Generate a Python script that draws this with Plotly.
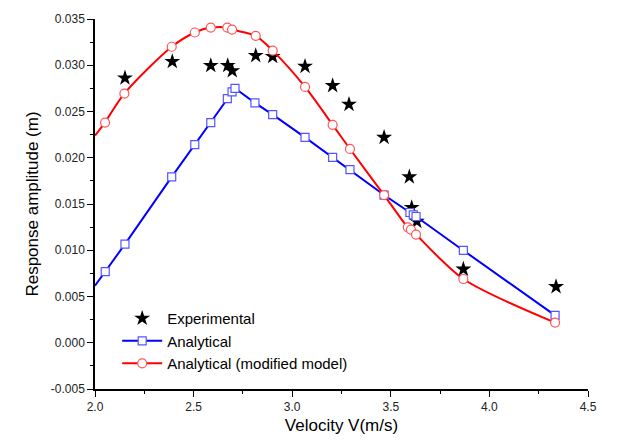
import plotly.graph_objects as go

# Experimental data
exp_v = [2.152, 2.392, 2.587, 2.673, 2.696, 2.815, 2.901, 3.065, 3.205, 3.288, 3.466, 3.594, 3.606, 3.632, 3.868, 4.338]
exp_a = [0.02862, 0.0304, 0.02997, 0.02997, 0.0294, 0.03104, 0.03094, 0.02988, 0.0278, 0.02577, 0.0222, 0.01793, 0.01461, 0.01312, 0.00795, 0.00606]

# Analytical
ana_v = [2.052, 2.152, 2.389, 2.506, 2.587, 2.671, 2.695, 2.710, 2.811, 2.901, 3.065, 3.205, 3.293, 3.466, 3.597, 3.614, 3.628, 3.868, 4.333]
ana_a = [0.0077, 0.01066, 0.01793, 0.02142, 0.0238, 0.0264, 0.02712, 0.02751, 0.02594, 0.02466, 0.0222, 0.02003, 0.01871, 0.01597, 0.01408, 0.01383, 0.01365, 0.00998, 0.00296]
ana_line_v = [2.0, 2.052]
ana_line_a = [0.00616, 0.0077]

# Analytical (modified model)
mod_v = [2.051, 2.149, 2.389, 2.506, 2.587, 2.671, 2.695, 2.815, 2.901, 3.065, 3.205, 3.293, 3.466, 3.586, 3.602, 3.628, 3.868, 4.333]
mod_a = [0.0238, 0.02694, 0.032, 0.03354, 0.03407, 0.03407, 0.03386, 0.03318, 0.03158, 0.02766, 0.02356, 0.02095, 0.01597, 0.01248, 0.01223, 0.0117, 0.00689, 0.00218]
mod_line_v = [2.0, 2.051]
mod_line_a = [0.0224, 0.0238]

# Tick labels
y_tickvals = [-0.005, 0.0, 0.005, 0.010, 0.015, 0.020, 0.025, 0.030, 0.035]
y_ticktext = ["-0.005", "0.000", "0.005", "0.010", "0.015", "0.020", "0.025", "0.030", "0.035"]
x_tickvals = [2.0, 2.5, 3.0, 3.5, 4.0, 4.5]
x_ticktext = ["2.0", "2.5", "3.0", "3.5", "4.0", "4.5"]

fig = go.Figure()
fig.add_trace(go.Scatter(x=ana_line_v, y=ana_line_a, mode="lines",
                         line=dict(color="#0000ff", width=2), showlegend=False, hoverinfo="skip"))
fig.add_trace(go.Scatter(x=mod_line_v, y=mod_line_a, mode="lines",
                         line=dict(color="#ff0000", width=2, shape="spline"), showlegend=False, hoverinfo="skip"))
fig.add_trace(go.Scatter(x=exp_v, y=exp_a, mode="markers", name="Experimental",
                         marker=dict(symbol="star", size=12, color="black")))
fig.add_trace(go.Scatter(x=ana_v, y=ana_a, mode="lines+markers", name="Analytical",
                         line=dict(color="#0000ff", width=2),
                         marker=dict(symbol="square", size=8, color="white",
                                     line=dict(color="#5555ff", width=1.2))))
fig.add_trace(go.Scatter(x=mod_v, y=mod_a, mode="lines+markers", name="Analytical (modified model)",
                         line=dict(color="#ff0000", width=2, shape="spline", smoothing=0.8),
                         marker=dict(symbol="circle", size=9, color="white",
                                     line=dict(color="#ff5555", width=1.2))))

fig.update_layout(
    width=619, height=446,
    margin=dict(l=95, r=31, t=15, b=57),
    paper_bgcolor="white", plot_bgcolor="white",
    font=dict(family="Liberation Sans, Arial", color="black"),
    legend=dict(x=0.045, y=0.235, xanchor="left", yanchor="top",
                bgcolor="rgba(0,0,0,0)", font=dict(size=15), tracegroupgap=0, itemwidth=40),
)
fig.update_xaxes(range=[2.0, 4.5], tickvals=x_tickvals, ticktext=x_ticktext,
                 showgrid=False, zeroline=False, showline=True, linecolor="black", linewidth=1.5,
                 ticks="outside", ticklen=6, tickwidth=1.2, tickcolor="black",
                 tickfont=dict(size=12, color="#222222"),
                 minor=dict(ticks="outside", dtick=0.25, ticklen=3, tickwidth=1, tickcolor="black"),
                 title=dict(text="Velocity V(m/s)", font=dict(size=17), standoff=6))
fig.update_yaxes(range=[-0.005, 0.035], tickvals=y_tickvals, ticktext=y_ticktext,
                 showgrid=False, zeroline=False, showline=True, linecolor="black", linewidth=1.5,
                 ticks="outside", ticklen=6, tickwidth=1.2, tickcolor="black",
                 tickfont=dict(size=12, color="#222222"),
                 minor=dict(ticks="outside", dtick=0.0025, tick0=0, ticklen=3, tickwidth=1, tickcolor="black"),
                 title=dict(text="Response amplitude (m)", font=dict(size=17), standoff=8))

fig.write_html("out.html")
